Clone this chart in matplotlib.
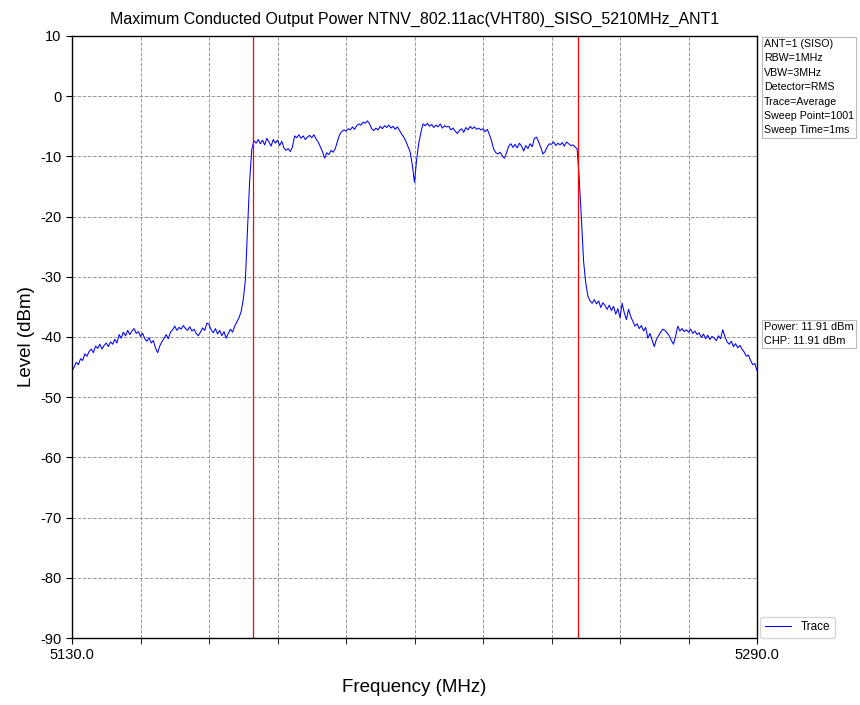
import numpy as np
import matplotlib
matplotlib.use("Agg")
import matplotlib.pyplot as plt

plt.rcParams['font.family'] = ['Liberation Sans', 'DejaVu Sans']
plt.rcParams['axes.unicode_minus'] = False

title = "Maximum Conducted Output Power NTNV_802.11ac(VHT80)_SISO_5210MHz_ANT1"
f_start, f_stop = 5130.0, 5290.0
marker_lines = [5172.3, 5248.2]
info_text = "ANT=1 (SISO)\nRBW=1MHz\nVBW=3MHz\nDetector=RMS\nTrace=Average\nSweep Point=1001\nSweep Time=1ms"
power_text = "Power: 11.91 dBm\nCHP: 11.91 dBm"
y_ticks = [10, 0, -10, -20, -30, -40, -50, -60, -70, -80, -90]

# trace levels (dBm), 0.5 MHz steps from 5130 to 5290
lv_5130 = [-45.6, -45.0, -44.2, -44.6, -43.6, -43.9, -42.8, -43.2, -42.4, -42.0, -42.6, -41.5, -41.9, -41.2, -42.0, -41.4]
lv_5138 = [-41.0, -41.6, -40.8, -41.2, -40.4, -41.0, -39.6, -40.2, -39.2, -39.8, -38.9, -39.6, -39.0, -38.6, -39.4, -39.1]
lv_5146 = [-39.9, -39.4, -40.3, -40.7, -40.1, -41.0, -40.6, -41.8, -42.6, -41.5, -40.8, -40.2, -39.6, -40.3, -39.2, -38.8]
lv_5154 = [-38.2, -38.9, -38.4, -38.7, -38.1, -38.6, -38.9, -38.3, -39.0, -38.7, -39.4, -39.8, -39.2, -38.5, -38.9, -37.7]
lv_5162 = [-37.9, -38.8, -39.3, -38.6, -39.5, -38.9, -39.8, -39.1, -40.2, -39.4, -38.7, -39.2, -38.2, -37.5, -36.8, -35.8]
lv_5170 = [-33.8, -30.5, -22.0, -14.0, -8.8, -7.4, -7.8, -7.2, -7.9, -7.3, -8.1, -7.0, -7.6, -8.3, -7.2, -7.8]
lv_5178 = [-7.3, -8.2, -7.5, -8.6, -9.0, -8.7, -9.2, -8.4, -6.6, -6.9, -6.4, -7.0, -6.6, -7.2, -6.8, -6.5]
lv_5186 = [-6.9, -6.4, -7.1, -7.6, -8.4, -9.2, -10.3, -9.4, -9.7, -9.0, -9.3, -8.7, -7.5, -6.4, -5.9, -5.6]
lv_5194 = [-5.8, -5.4, -5.6, -5.1, -5.5, -4.9, -4.6, -4.8, -4.3, -4.5, -4.1, -4.6, -5.4, -5.7, -5.3, -5.6]
lv_5202 = [-5.0, -5.4, -4.9, -5.2, -4.8, -5.3, -5.0, -5.5, -5.1, -5.7, -6.3, -6.8, -7.5, -8.4, -9.3, -11.5]
lv_5210 = [-14.3, -10.5, -7.8, -6.0, -4.6, -4.9, -4.5, -5.0, -4.7, -5.2, -4.8, -5.1, -4.6, -5.3, -4.9, -5.1]
lv_5218 = [-5.0, -5.6, -5.3, -5.8, -6.2, -5.7, -5.4, -6.0, -5.2, -5.6, -5.0, -5.4, -5.1, -5.5, -5.3, -5.6]
lv_5226 = [-5.4, -5.9, -5.5, -6.4, -7.4, -8.8, -9.4, -9.6, -9.3, -9.9, -10.3, -9.4, -8.3, -7.9, -8.5, -8.0]
lv_5234 = [-8.6, -7.8, -8.3, -9.1, -8.2, -8.7, -7.9, -8.4, -7.0, -6.8, -7.6, -8.5, -9.6, -9.2, -8.4, -7.9]
lv_5242 = [-8.0, -7.6, -8.2, -7.8, -8.1, -7.7, -8.3, -7.6, -7.9, -8.2, -8.1, -8.4, -8.8, -14.0, -20.5, -27.5]
lv_5250 = [-31.0, -33.2, -34.0, -34.4, -33.8, -34.5, -34.0, -35.1, -34.3, -34.8, -35.4, -34.7, -35.6, -34.9, -36.2, -35.3]
lv_5258 = [-36.8, -34.4, -36.0, -37.1, -35.4, -36.6, -37.4, -38.2, -37.8, -38.6, -38.1, -39.0, -38.4, -40.2, -39.4, -40.5]
lv_5266 = [-41.6, -40.4, -39.8, -39.2, -38.7, -38.9, -39.3, -39.8, -40.6, -41.2, -39.8, -38.2, -39.0, -38.6, -39.1, -38.8]
lv_5274 = [-39.2, -38.7, -39.4, -39.0, -39.6, -39.3, -40.1, -39.5, -40.3, -39.7, -40.4, -39.9, -40.2, -40.6, -39.8, -40.3]
lv_5282 = [-38.8, -39.9, -40.8, -41.2, -40.7, -41.6, -41.1, -41.8, -41.4, -42.0, -42.5, -43.2, -43.0, -43.9, -44.6, -44.4]
lv_end = [-45.6]

levels = (lv_5130 + lv_5138 + lv_5146 + lv_5154 + lv_5162 + lv_5170 + lv_5178 + lv_5186 +
          lv_5194 + lv_5202 + lv_5210 + lv_5218 + lv_5226 + lv_5234 + lv_5242 + lv_5250 +
          lv_5258 + lv_5266 + lv_5274 + lv_5282 + lv_end)
freqs = np.linspace(f_start, f_stop, len(levels))

fig = plt.figure(figsize=(8.6, 7.05), dpi=100)
ax = fig.add_axes([72/860, 1-638/705, (757-72)/860, (638-36)/705])

ax.plot(freqs, levels, color='blue', linewidth=0.75, label='Trace')
for m in marker_lines:
    ax.axvline(m, color='red', linewidth=0.9)

ax.set_xlim(f_start, f_stop)
ax.set_ylim(-90, 10)
ax.set_yticks(y_ticks)
ax.set_xticks([f_start, f_stop])
ax.set_xticklabels([f"{f_start:.1f}", f"{f_stop:.1f}"])
ax.set_xticks(np.linspace(f_start, f_stop, 11), minor=True)
ax.tick_params(axis='x', which='minor', length=4)
ax.tick_params(axis='both', which='major', labelsize=10.5, length=4)
ax.grid(True, which='both', axis='x', linestyle='--', color='#999999', linewidth=0.7)
ax.grid(True, which='major', axis='y', linestyle='--', color='#999999', linewidth=0.7)

ax.set_xlabel("Frequency (MHz)", fontsize=13.5, labelpad=12)
ax.set_ylabel("Level (dBm)", fontsize=13.5)
ax.set_title(title, fontsize=11.5, pad=9)

for s in ax.spines.values():
    s.set_linewidth(1.0)

bbox = dict(boxstyle='square,pad=0.2', facecolor='white', edgecolor='#bbbbbb', linewidth=0.8)
fig.text(764/860, 1-39/705, info_text, fontsize=7.7, va='top', ha='left', bbox=bbox, linespacing=1.55)
fig.text(764/860, 1-322/705, power_text, fontsize=7.9, va='top', ha='left', bbox=bbox, linespacing=1.5)

ax.legend(loc='lower left', bbox_to_anchor=(1.005, 0.0), fontsize=8.5, frameon=True,
          fancybox=True, edgecolor='#cccccc', handlelength=2.2, borderaxespad=0.0)

fig.savefig("out.png", dpi=100)
